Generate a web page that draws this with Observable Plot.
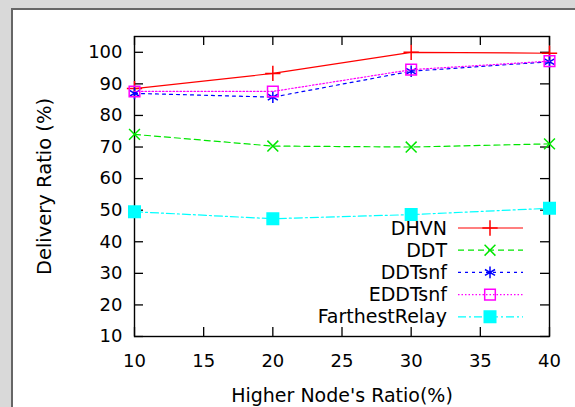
<!DOCTYPE html>
<html><head><meta charset="utf-8">
<script src="https://cdn.jsdelivr.net/npm/d3@7"></script>
<script src="https://cdn.jsdelivr.net/npm/@observablehq/plot@0.6"></script>
<style>
html,body{margin:0;padding:0;background:#d9d9d9;}
#wrap{position:relative;width:575px;height:407px;overflow:hidden;}
#panel{position:absolute;left:11px;top:8px;right:-5px;bottom:-5px;background:#fff;border-left:2px solid #666;border-top:2px solid #666;}
#chart{position:absolute;left:0;top:0;}
#legend{position:absolute;left:0;top:0;}
</style></head><body>
<div id="wrap"><div id="panel"></div><div id="chart"></div><svg id="legend" width="575" height="407"></svg></div>
<script>
// Data
const xValues = [10, 20, 30, 40];
const seriesNames = ["DHVN", "DDT", "DDTsnf", "EDDTsnf", "FarthestRelay"];
const dhvn = [88.5, 93.3, 100, 99.7];
const ddt = [74, 70.3, 70, 71];
const ddtsnf = [87, 85.8, 94, 97];
const eddtsnf = [87.6, 87.6, 94.5, 97.2];
const farthestRelay = [49.5, 47.3, 48.6, 50.6];
const xTicks = [10, 15, 20, 25, 30, 35, 40];
const yTicks = [10, 20, 30, 40, 50, 60, 70, 80, 90, 100];
const xTitle = "Higher Node's Ratio(%)";
const yTitle = "Delivery Ratio (%)";

// Styles
const seriesValues = [dhvn, ddt, ddtsnf, eddtsnf, farthestRelay];
const colors = ["#ff0000", "#00e600", "#0000ff", "#ff00ff", "#00ffff"];
const dashes = ["none", "6,4", "3,4", "1.5,2", "8,3,2,3"];
const symbols = ["plus", "times", "asterisk", "square", "square"];
const symbolR = [5, 5, 5.5, 6, 6.5];
const filled = [false, false, false, false, true];

const rows = [];
seriesNames.forEach((name, i) => xValues.forEach((x, j) => rows.push({series: name, i, x, y: seriesValues[i][j]})));

const W = 575, H = 407, mL = 134, mR = 26, mT = 36, mB = 71;
const fw = W - mL - mR, fh = H - mT - mB;

const marks = [
  Plot.frame({stroke: "black", strokeWidth: 1.4}),
  Plot.tickY(yTicks, {y: d => d, insetRight: fw - 9, stroke: "black", strokeWidth: 1.3}),
  Plot.tickY(yTicks, {y: d => d, insetLeft: fw - 9, stroke: "black", strokeWidth: 1.3}),
  Plot.tickX(xTicks, {x: d => d, insetTop: fh - 9, stroke: "black", strokeWidth: 1.3}),
  Plot.tickX(xTicks, {x: d => d, insetBottom: fh - 9, stroke: "black", strokeWidth: 1.3}),
  Plot.axisX({ticks: xTicks, tickSize: 0, tickPadding: 18, label: null, fontSize: 18, tickFormat: d => String(d)}),
  Plot.axisY({ticks: yTicks, tickSize: 0, tickPadding: 12, label: null, fontSize: 18, tickFormat: d => String(d)}),
  Plot.text([xTitle], {text: d => d, frameAnchor: "bottom", textAnchor: "middle", lineAnchor: "middle", dy: 59, fontSize: 19}),
  Plot.text([yTitle], {text: d => d, frameAnchor: "left", textAnchor: "middle", lineAnchor: "middle", dx: -90, rotate: -90, fontSize: 19.5})
];
seriesNames.forEach((name, i) => {
  const d = rows.filter(r => r.i === i);
  marks.push(Plot.line(d, {x: "x", y: "y", stroke: colors[i], strokeWidth: 1.2, strokeDasharray: dashes[i] === "none" ? null : dashes[i]}));
  marks.push(Plot.dot(d, {x: "x", y: "y", symbol: symbols[i], r: symbolR[i],
    stroke: colors[i], strokeWidth: 1.5, fill: filled[i] ? colors[i] : "none"}));
});

const chart = Plot.plot({
  width: W, height: H, marginLeft: mL, marginRight: mR, marginTop: mT, marginBottom: mB,
  x: {domain: [10, 40]},
  y: {domain: [10, 105]},
  style: {fontFamily: "DejaVu Sans", fontSize: "18px", background: "transparent", color: "black", overflow: "visible"},
  marks
});
document.getElementById("chart").appendChild(chart);

// Legend (inside plot, bottom right)
const symMap = {plus: d3.symbolPlus, times: d3.symbolTimes, asterisk: d3.symbolAsterisk, square: d3.symbolSquare};
const lg = d3.select("#legend");
seriesNames.forEach((name, i) => {
  const y = 228 + i * 22.2;
  lg.append("text").attr("x", 447).attr("y", y).attr("text-anchor", "end").attr("dy", "0.35em")
    .attr("font-family", "DejaVu Sans").attr("font-size", 19).attr("fill", "black").text(name);
  lg.append("line").attr("x1", 458).attr("x2", 523).attr("y1", y).attr("y2", y)
    .attr("stroke", colors[i]).attr("stroke-width", 1.2)
    .attr("stroke-dasharray", dashes[i] === "none" ? null : dashes[i]);
  lg.append("path").attr("transform", `translate(490,${y})`)
    .attr("d", d3.symbol(symMap[symbols[i]], Math.PI * symbolR[i] * symbolR[i])())
    .attr("stroke", colors[i]).attr("stroke-width", 1.5)
    .attr("fill", filled[i] ? colors[i] : "none");
});
</script>
</body></html>
